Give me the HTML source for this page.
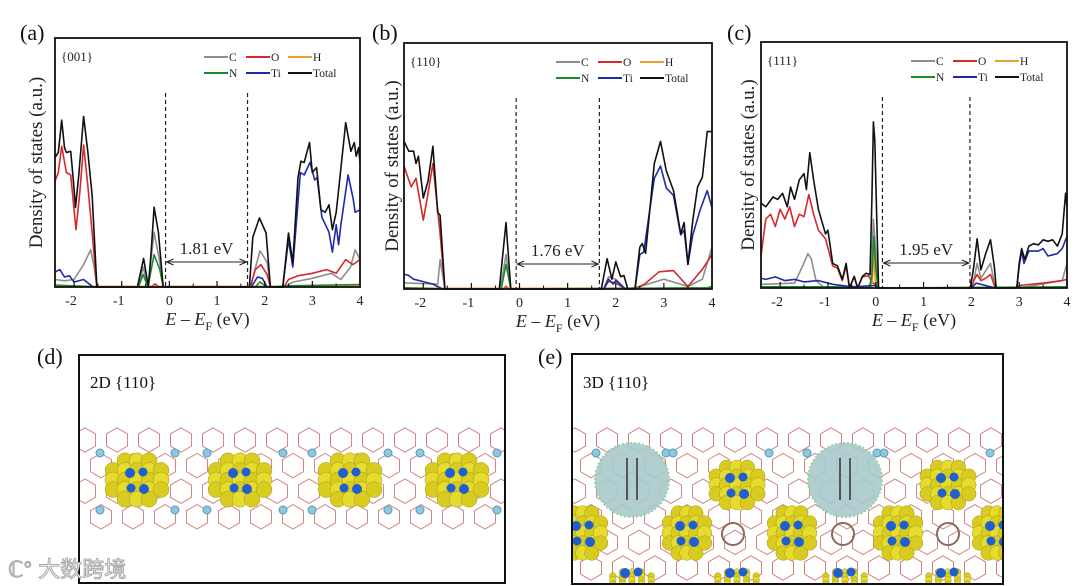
<!DOCTYPE html>
<html><head><meta charset="utf-8">
<style>
html,body{margin:0;padding:0;background:#fff;}
svg{display:block;font-family:"Liberation Serif",serif;}
</style></head>
<body>
<svg id="fig" width="1080" height="586" viewBox="0 0 1080 586" xmlns="http://www.w3.org/2000/svg">
<defs>
<clipPath id="clipD"><rect x="80" y="356" width="424" height="226"/></clipPath>
<clipPath id="clipE"><rect x="573" y="355" width="429" height="228"/></clipPath>
</defs>
<rect width="1080" height="586" fill="#fff"/>
<g id="charts"></g>
<g id="structD" clip-path="url(#clipD)"></g>
<g id="structE" clip-path="url(#clipE)"></g>
<g id="frames"></g>
</svg>
<script>
// ---------- data ----------
const xTicks = [-2, -1, 0, 1, 2, 3, 4];
const xTickLabels = ["-2", "-1", "0", "1", "2", "3", "4"];
const legendSpecies = ["C", "O", "H", "N", "Ti", "Total"];
const facetLabels = ["{001}", "{110}", "{111}"];
const gapLabels = ["1.81 eV", "1.76 eV", "1.95 eV"];
const gapEdgesA = [-0.08, 1.64];
const gapEdgesB = [-0.07, 1.66];
const gapEdgesC = [0.14, 1.97];

// Panel (a) {001}
const aTotal = [[-2.4,5.2],[-2.33,5.4],[-2.26,6.7],[-2.2,5.6],[-2.16,5.4],[-2.07,5.45],[-2.02,4.4],[-1.97,3.2],[-1.9,4.5],[-1.8,6.85],[-1.71,5.4],[-1.62,3.65],[-1.52,0],[-0.67,0],[-0.54,1.15],[-0.44,0],[-0.38,1.5],[-0.32,3.2],[-0.23,2.2],[-0.13,0],[1.68,0],[1.75,2.0],[1.89,2.77],[2.03,2.17],[2.12,0],[2.38,0],[2.5,2.17],[2.59,0.97],[2.7,4.4],[2.76,5.05],[2.83,5.0],[2.94,5.8],[3.0,4.6],[3.09,4.8],[3.18,3.1],[3.27,3.0],[3.35,3.3],[3.42,2.3],[3.5,3.0],[3.56,4.05],[3.7,6.6],[3.81,5.45],[3.88,5.8],[3.92,5.25],[3.97,5.6],[4.0,5.0]];
const aO = [[-2.4,4.25],[-2.33,4.6],[-2.26,5.65],[-2.16,4.6],[-2.07,4.5],[-1.96,2.3],[-1.88,3.8],[-1.8,5.7],[-1.71,4.05],[-1.62,2.17],[-1.52,0],[-0.4,0],[-0.3,0.12],[-0.2,0],[1.7,0],[1.8,0.7],[1.92,0.9],[2.05,0.5],[2.12,0],[2.4,0],[2.5,0.3],[2.7,0.45],[3.0,0.55],[3.3,0.7],[3.5,0.55],[3.7,1.1],[3.85,0.9],[4.0,1.1]];
const aC = [[-2.4,0.3],[-2.2,0.25],[-2.0,0.3],[-1.8,0.9],[-1.65,1.5],[-1.58,0.8],[-1.52,0],[-0.65,0],[-0.55,0.8],[-0.45,0],[-0.32,2.2],[-0.2,1.0],[-0.13,0],[1.7,0],[1.9,1.45],[2.05,1.0],[2.12,0],[2.4,0],[2.6,0.2],[3.0,0.35],[3.4,0.55],[3.6,0.3],[3.8,0.8],[3.9,1.5],[4.0,1.1]];
const aH = [[-2.4,0.05],[-1.5,0.03],[2.5,0.03],[4.0,0.05]];
const aN = [[-2.4,0.08],[-1.5,0],[-0.65,0],[-0.55,0.5],[-0.45,0],[-0.32,1.3],[-0.2,0.7],[-0.13,0],[1.8,0],[1.9,0.2],[2.05,0],[2.5,0.05],[4.0,0.1]];
const aTi = [[-2.4,0.6],[-2.3,0.7],[-2.2,0.4],[-2.1,0.45],[-2.0,0.2],[-1.8,0.3],[-1.6,0],[1.72,0],[1.85,0.4],[1.95,0.35],[2.05,0],[2.38,0],[2.5,1.9],[2.59,0.8],[2.75,4.6],[2.83,4.5],[2.95,5.0],[3.05,4.3],[3.1,4.4],[3.2,2.8],[3.35,2.2],[3.42,1.4],[3.5,2.5],[3.55,1.7],[3.6,2.5],[3.75,4.5],[3.85,3.6],[3.9,3.0],[4.0,3.1]];

// Panel (b) {110}
const bTotal = [[-2.4,6.0],[-2.3,5.6],[-2.2,5.6],[-2.15,5.1],[-2.1,5.4],[-2.0,3.7],[-1.9,4.4],[-1.8,5.8],[-1.7,3.1],[-1.65,3.0],[-1.55,0],[-0.42,0],[-0.28,2.7],[-0.18,0],[1.7,0],[1.82,1.23],[1.92,0.4],[2.0,1.1],[2.1,0.5],[2.17,0.55],[2.25,0],[2.4,0],[2.5,1.7],[2.55,1.85],[2.62,1.45],[2.8,5.1],[2.93,6.0],[3.05,4.8],[3.2,4.0],[3.35,2.25],[3.42,2.7],[3.5,1.0],[3.6,2.8],[3.7,4.15],[3.8,4.55],[3.9,6.4],[4.0,6.4]];
const bO = [[-2.4,5.0],[-2.25,4.15],[-2.15,4.5],[-2.0,2.8],[-1.9,3.9],[-1.8,5.1],[-1.65,2.25],[-1.55,0],[-0.35,0],[-0.28,0.1],[-0.2,0],[1.75,0],[1.85,0.3],[2.0,0.25],[2.2,0],[2.4,0],[2.6,0.2],[2.9,0.7],[3.2,0.75],[3.5,0.1],[3.8,0.8],[4.0,1.4]];
const bC = [[-2.4,0.25],[-1.7,0.2],[-1.65,1.2],[-1.55,0],[-0.4,0],[-0.28,1.4],[-0.18,0],[1.75,0],[1.85,0.5],[2.0,0.4],[2.2,0],[2.5,0.1],[3.0,0.4],[3.5,0.1],[3.8,0.4],[4.0,1.7]];
const bH = [[-2.4,0.05],[-1.5,0.03],[2.5,0.03],[4.0,0.05]];
const bN = [[-2.4,0.05],[-1.55,0],[-0.38,0],[-0.28,1.0],[-0.18,0],[3.9,0.05],[4.0,0.1]];
const bTi = [[-2.4,0.6],[-2.3,0.55],[-2.2,0.4],[-2.0,0.3],[-1.8,0.2],[-1.6,0],[1.75,0],[1.85,0.4],[1.95,0.2],[2.0,0.35],[2.2,0],[2.4,0],[2.5,1.4],[2.58,1.5],[2.8,4.5],[2.93,5.0],[3.05,4.1],[3.2,3.8],[3.35,2.2],[3.42,2.4],[3.5,1.0],[3.6,2.2],[3.75,3.2],[3.9,4.0],[4.0,3.3]];

// Panel (c) {111}
const cTotal = [[-2.4,3.45],[-2.3,3.3],[-2.15,3.7],[-2.05,3.6],[-1.95,3.85],[-1.85,3.3],[-1.78,4.1],[-1.7,3.6],[-1.6,4.4],[-1.5,4.65],[-1.45,4.0],[-1.38,5.5],[-1.3,4.4],[-1.2,3.2],[-1.05,2.2],[-1.0,2.35],[-0.9,1.0],[-0.8,0.9],[-0.7,0.35],[-0.62,1.0],[-0.55,0],[-0.45,0.47],[-0.38,0],[-0.28,0.47],[-0.2,0.6],[-0.12,0.55],[-0.08,3.6],[-0.05,6.75],[-0.02,6.0],[0.02,2.9],[0.06,0],[1.98,0],[2.05,0.88],[2.12,2.0],[2.2,0.74],[2.3,1.4],[2.4,1.96],[2.48,0.88],[2.52,0],[2.95,0],[3.0,1.0],[3.05,1.6],[3.12,1.15],[3.2,1.7],[3.3,1.8],[3.4,1.75],[3.5,1.96],[3.6,1.9],[3.7,1.96],[3.8,1.7],[3.9,2.2],[3.97,3.85],[4.0,3.3]];
const cO = [[-2.4,1.3],[-2.3,2.8],[-2.2,3.0],[-2.1,2.5],[-2.0,3.2],[-1.9,2.8],[-1.8,3.3],[-1.7,2.5],[-1.6,3.0],[-1.5,2.9],[-1.4,3.8],[-1.3,3.0],[-1.2,2.35],[-1.05,2.0],[-0.9,0.9],[-0.8,0.8],[-0.7,0.3],[-0.62,0.9],[-0.55,0],[-0.45,0.47],[-0.38,0],[-0.28,0.45],[-0.15,0.5],[-0.1,0.3],[0.0,0.1],[0.05,0],[2.0,0],[2.05,0.3],[2.12,0.55],[2.2,0.3],[2.3,0.4],[2.4,0.55],[2.5,0],[2.95,0],[3.0,0.1],[3.5,0.2],[3.9,0.3],[4.0,0.35]];
const cC = [[-2.4,0.15],[-1.7,0.2],[-1.55,0.8],[-1.42,1.4],[-1.35,1.2],[-1.25,0.3],[-1.1,0.05],[-0.15,0.05],[-0.1,0.3],[-0.05,2.8],[0.0,1.5],[0.05,0],[2.0,0],[2.05,0.3],[2.12,1.0],[2.2,0.4],[2.3,0.7],[2.4,1.0],[2.5,0],[3.0,0],[3.9,0.3],[4.0,1.0]];
const cH = [[-2.4,0.03],[-0.1,0.03],[-0.07,0.3],[-0.04,1.4],[-0.01,0.3],[0.05,0],[4.0,0.03]];
const cN = [[-2.4,0.05],[-0.12,0.05],[-0.08,0.5],[-0.04,2.1],[0.0,0.8],[0.05,0],[4.0,0.05]];
const cTi = [[-2.4,0.4],[-2.3,0.35],[-2.1,0.45],[-1.9,0.3],[-1.7,0.35],[-1.5,0.25],[-1.2,0.3],[-0.9,0.15],[-0.5,0.05],[0.0,0.1],[0.05,0],[2.0,0],[2.1,0.2],[2.3,0.1],[2.5,0],[2.95,0],[3.0,0.9],[3.05,1.5],[3.1,1.0],[3.2,1.5],[3.4,1.5],[3.5,1.6],[3.6,1.3],[3.7,1.35],[3.8,1.4],[3.9,1.6],[4.0,2.1]];

// ---------- drawing ----------
const NS = "http://www.w3.org/2000/svg";
const colors = {C:"#8e8e8e", O:"#d42a2a", H:"#e8a030", N:"#1c8a2a", Ti:"#1f2aa8", Total:"#111"};
function mk(tag, attrs, parent){ const e=document.createElementNS(NS,tag); for(const k in attrs) e.setAttribute(k,attrs[k]); parent.appendChild(e); return e; }

const panels = [
 {key:"a", x0:55, x1:360, yT:38, yB:287, label:"(a)", lx:20, ylx:36, series:{C:aC,O:aO,H:aH,N:aN,Ti:aTi,Total:aTotal}, gap:gapEdgesA, facet:facetLabels[0], gapText:gapLabels[0]},
 {key:"b", x0:404, x1:712, yT:43, yB:289, label:"(b)", lx:372, ylx:392, series:{C:bC,O:bO,H:bH,N:bN,Ti:bTi,Total:bTotal}, gap:gapEdgesB, facet:facetLabels[1], gapText:gapLabels[1]},
 {key:"c", x0:761, x1:1067, yT:42, yB:288, label:"(c)", lx:727, ylx:748, series:{C:cC,O:cO,H:cH,N:cN,Ti:cTi,Total:cTotal}, gap:gapEdgesC, facet:facetLabels[2], gapText:gapLabels[2]}
];
const charts = document.getElementById("charts");
panels.forEach(p=>{
  const g = mk("g",{},charts);
  
  
  const xs = e => p.x0 + (e+2.4)/6.4*(p.x1-p.x0);
  const ys = v => p.yB - v/10*(p.yB-p.yT);
  ["C","O","H","N","Ti","Total"].forEach(sp=>{
    const pts = p.series[sp].map(d=>xs(d[0]).toFixed(1)+","+ys(d[1]).toFixed(1)).join(" ");
    const pl = mk("polyline",{points:pts, fill:"none", stroke:colors[sp], "stroke-width":1.6, "stroke-linejoin":"round"},g);
    
    
  });
  p.gap.forEach((e,i)=>{
    const l = mk("line",{x1:xs(e),x2:xs(e),y1:p.yT+55,y2:p.yB,stroke:"#222","stroke-width":1.2,"stroke-dasharray":"4,3"},g);
    
    
  });
  const ay = p.yB-25, ax1 = xs(p.gap[0])+1, ax2 = xs(p.gap[1])-1;
  const arr = mk("g",{},g);
  
  
  mk("line",{x1:ax1,x2:ax2,y1:ay,y2:ay,stroke:"#222","stroke-width":1},arr);
  mk("path",{d:`M${ax1+7},${ay-3} L${ax1},${ay} L${ax1+7},${ay+3}`,fill:"none",stroke:"#222","stroke-width":1},arr);
  mk("path",{d:`M${ax2-7},${ay-3} L${ax2},${ay} L${ax2-7},${ay+3}`,fill:"none",stroke:"#222","stroke-width":1},arr);
  const gt = mk("text",{x:(ax1+ax2)/2,y:ay-8,"text-anchor":"middle","font-size":17,fill:"#222"},g);
  gt.textContent = p.gapText;
  
  
  const fr = mk("rect",{x:p.x0,y:p.yT,width:p.x1-p.x0,height:p.yB-p.yT,fill:"none",stroke:"#111","stroke-width":1.8},g);
  
  
  xTicks.forEach((t,i)=>{
    mk("line",{x1:xs(t),x2:xs(t),y1:p.yB,y2:p.yB-6,stroke:"#111","stroke-width":1.2},g);
    if(t<4) mk("line",{x1:xs(t+0.5),x2:xs(t+0.5),y1:p.yB,y2:p.yB-3.5,stroke:"#111","stroke-width":1},g);
    const tl = mk("text",{x:xs(t)-(t<0?3:0),y:p.yB+18,"text-anchor":"middle","font-size":14,fill:"#222"},g);
    tl.textContent = xTickLabels[i];
    
    
  });
  const xt = mk("text",{x:(p.x0+p.x1)/2,y:p.yB+38,"text-anchor":"middle","font-size":18,fill:"#222"},g);
  xt.innerHTML = '<tspan font-style="italic">E</tspan> – <tspan font-style="italic">E</tspan><tspan font-size="12" dy="5">F</tspan><tspan dy="-5"> (eV)</tspan>';
  
  
  const yt = mk("text",{x:0,y:0,"text-anchor":"middle","font-size":19,fill:"#222",transform:`translate(${p.ylx+6},${(p.yT+p.yB)/2}) rotate(-90)`},g);
  yt.textContent = "Density of states (a.u.)";
  
  
  const pl = mk("text",{x:p.lx,y:40,"font-size":22,fill:"#111"},g);
  pl.textContent = p.label;
  
  
  const ft = mk("text",{x:p.x0+6,y:p.yT+23,"font-size":13,fill:"#222"},g);
  ft.textContent = p.facet;
  
  
  const lg = mk("g",{},g);
  
  
  const lx0 = p.x1-156;
  const slots = [[lx0,0],[lx0+42,0],[lx0+84,0],[lx0,1],[lx0+42,1],[lx0+84,1]];
  legendSpecies.forEach((sp,i)=>{
    const [sx,row] = slots[i];
    const yy = p.yT+23+row*16;
    const ent = mk("g",{},lg);
    
    
    mk("line",{x1:sx,x2:sx+24,y1:yy-4,y2:yy-4,stroke:colors[sp],"stroke-width":2},ent);
    const t = mk("text",{x:sx+25,y:yy,"font-size":11.5,fill:"#222"},ent);
    t.textContent = sp;
  });
});

// ---------- structure illustrations (decorative) ----------
function framework(g, x0, x1, y0, y1, step){
  for(let x=x0; x<x1; x+=step){
    for(let y=y0, r=0; y<y1; y+=step*0.8, r++){
      const cx = x + (r%2)*step/2;
      const pts=[];
      for(let k=0;k<6;k++){ const a=Math.PI/3*k+Math.PI/6; pts.push((cx+Math.cos(a)*step*0.38).toFixed(1)+","+(y+Math.sin(a)*step*0.38).toFixed(1)); }
      mk("polygon",{points:pts.join(" "),fill:"none",stroke:"#c05050","stroke-width":1,opacity:0.7},g);
    }
  }
}
function blob(g,cx,cy,w,h){
  for(let i=-2;i<=2;i++) for(let j=-2;j<=2;j++){
    if(Math.abs(i)+Math.abs(j)>3) continue;
    mk("circle",{cx:cx+i*w/5,cy:cy+j*h/5,r:Math.min(w,h)/6,fill:(i+j)%2?"#d8cc20":"#e6dc30",stroke:"#a89a10","stroke-width":0.5},g);
  }
  mk("circle",{cx:cx-7,cy:cy-7,r:5,fill:"#1f5fd0"},g);
  mk("circle",{cx:cx+6,cy:cy-8,r:4.5,fill:"#1f5fd0"},g);
  mk("circle",{cx:cx-6,cy:cy+8,r:4.5,fill:"#1f5fd0"},g);
  mk("circle",{cx:cx+7,cy:cy+9,r:5,fill:"#1f5fd0"},g);
}
const gd = document.getElementById("structD");
framework(gd, 85, 510, 440, 535, 32);
[100,175,207,283,312,388,420,497].forEach(x=>{ mk("circle",{cx:x,cy:453,r:4,fill:"#8cc8e0",stroke:"#5a9ab8"},gd); mk("circle",{cx:x,cy:510,r:4,fill:"#8cc8e0",stroke:"#5a9ab8"},gd); });
[137,240,350,457].forEach(x=>blob(gd,x,480,60,48));
const ge = document.getElementById("structE");
framework(ge, 575, 1010, 440, 590, 32);
[596,666,673,769,807,877,884,990].forEach(x=>mk("circle",{cx:x,cy:453,r:4,fill:"#8cc8e0",stroke:"#5a9ab8"},ge));
[632,845].forEach(x=>{ mk("circle",{cx:x,cy:480,r:37,fill:"#a9c9cc",stroke:"#8fd0a0","stroke-width":2,"stroke-dasharray":"2,2",opacity:0.9},ge); mk("path",{d:`M${x-5},${458} L${x-5},${500} M${x+5},${458} L${x+5},${500}`,stroke:"#555","stroke-width":2},ge); });
[733,843,948].forEach(x=>mk("circle",{cx:x,cy:534,r:11,fill:"none",stroke:"#8a6a5a","stroke-width":2},ge));
[737,948].forEach(x=>blob(ge,x,485,52,44));
[583,687,792,898,997].forEach(x=>blob(ge,x,533,44,50));
[632,737,845,948].forEach(x=>blob(ge,x,580,48,20));

const fg = document.getElementById("frames");
const fd = mk("rect",{x:79,y:355,width:426,height:228,fill:"none",stroke:"#111","stroke-width":2},fg);


const fe = mk("rect",{x:572,y:354,width:431,height:230,fill:"none",stroke:"#111","stroke-width":2},fg);


const tD = mk("text",{x:37,y:364,"font-size":22,fill:"#111"},fg); tD.textContent="(d)";


const tE = mk("text",{x:538,y:364,"font-size":22,fill:"#111"},fg); tE.textContent="(e)";


const sD = mk("text",{x:90,y:388,"font-size":17,fill:"#111"},fg); sD.textContent="2D {110}";


const sE = mk("text",{x:583,y:388,"font-size":17,fill:"#111"},fg); sE.textContent="3D {110}";


const wm = mk("text",{x:8,y:577,"font-size":22,fill:"#fff",stroke:"#aaa","stroke-width":1,"font-family":"\"Liberation Sans\",\"Noto Sans CJK SC\",sans-serif"},fg);
wm.textContent = "ℂ° 大数跨境";


</script>
</body></html>
